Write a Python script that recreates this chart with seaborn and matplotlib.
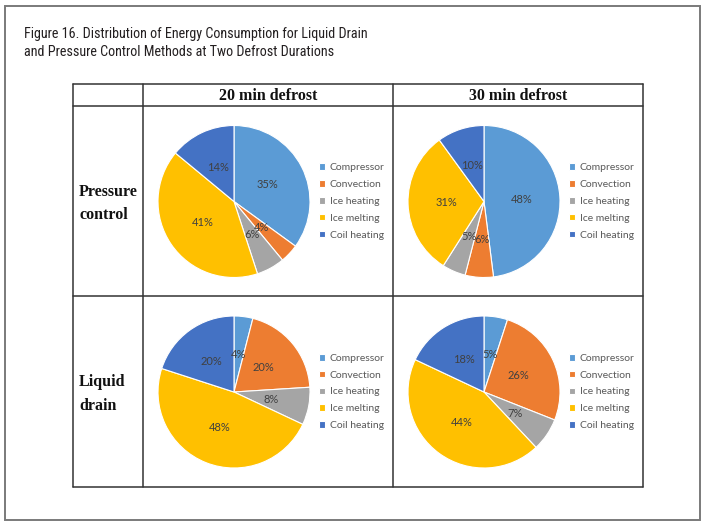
import matplotlib
matplotlib.use('Agg')
import matplotlib.pyplot as plt
from matplotlib.patches import Rectangle
import seaborn as sns

# data
components = ['Compressor', 'Convection', 'Ice heating', 'Ice melting', 'Coil heating']
durations = ['20 min defrost', '30 min defrost']
methods = ['Pressure\ncontrol', 'Liquid\ndrain']
pressure_20 = [35, 4, 6, 41, 14]
pressure_30 = [48, 6, 5, 31, 10]
liquid_20 = [4, 20, 8, 48, 20]
liquid_30 = [5, 26, 7, 44, 18]

title = ('Figure 16. Distribution of Energy Consumption for Liquid Drain\n'
         'and Pressure Control Methods at Two Defrost Durations')

sns.set_theme(style='white')
plt.rcParams['font.family'] = ['Lato', 'DejaVu Sans']
colors = sns.color_palette(['#5B9BD5', '#ED7D31', '#A5A5A5', '#FFC000', '#4472C4'])

W, H = 704, 524
fig = plt.figure(figsize=(W / 100, H / 100), dpi=100)
fig.patch.set_facecolor('white')

# background axes in pixel coords for frame, table and text
base = fig.add_axes([0, 0, 1, 1])
base.set_xlim(0, W)
base.set_ylim(H, 0)
base.axis('off')

base.add_patch(Rectangle((5, 6), 695, 514, fill=False, edgecolor='#7a7a7a', lw=1.4))
base.text(24, 43, title, ha='left', va='center', fontsize=10.2, color='#231f20',
          family=['Roboto Condensed', 'Liberation Sans Narrow', 'Arial Narrow', 'Roboto'],
          linespacing=1.4)

# table grid
line_kw = dict(color='#333333', lw=1.1)
xs = [73, 143, 393, 643]
ys = [84, 106, 296, 487]
for x in xs:
    base.plot([x, x], [ys[0], ys[-1]], **line_kw)
for y in ys:
    base.plot([xs[0], xs[-1]], [y, y], **line_kw)

serif = ['Liberation Serif', 'DejaVu Serif']
for i, d in enumerate(durations):
    base.text((xs[i + 1] + xs[i + 2]) / 2, 96, d, ha='center', va='center',
              fontsize=11.5, fontweight='bold', family=serif, color='#111111')

centers_y = [201.5, 392]
centers_x = [234, 484]
for j, m in enumerate(methods):
    base.text(79, centers_y[j] + 2, m, ha='left', va='center', fontsize=11.5,
              fontweight='bold', family=serif, color='#111111', linespacing=1.6)

series = [[pressure_20, pressure_30], [liquid_20, liquid_30]]
r = 76
for j in range(2):
    for i in range(2):
        cx, cy = centers_x[i], centers_y[j]
        ax = fig.add_axes([(cx - r) / W, (H - cy - r) / H, 2 * r / W, 2 * r / H])
        wedges, texts, autotexts = ax.pie(
            series[j][i], colors=colors, startangle=90, counterclock=False,
            autopct='%1.0f%%', pctdistance=0.5,
            wedgeprops=dict(edgecolor='white', linewidth=0.8),
            textprops=dict(color='#404040', fontsize=8))
        ax.set_xlim(-1, 1)
        ax.set_ylim(-1, 1)
        ax.set_aspect('equal')
        ax.axis('off')
        leg = ax.legend(wedges, components, loc='center left',
                        bbox_to_anchor=((cx + 85) / W, (H - cy) / H),
                        bbox_transform=fig.transFigure, frameon=False,
                        fontsize=7.5, borderpad=0, borderaxespad=0,
                        handlelength=0.6, handleheight=0.6, handletextpad=0.45,
                        labelspacing=0.75)
        for t in leg.get_texts():
            t.set_color('#595959')

fig.savefig('out.png', dpi=100, facecolor='white')
